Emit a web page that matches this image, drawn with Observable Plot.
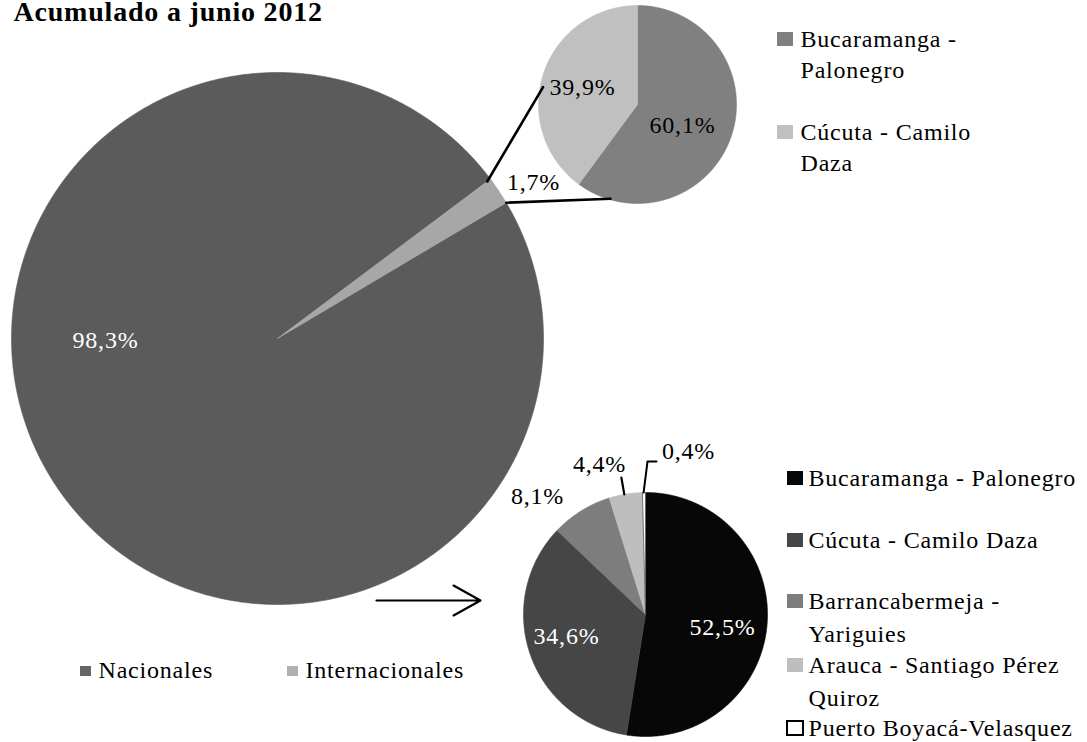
<!DOCTYPE html>
<html><head><meta charset="utf-8">
<script src="https://cdn.jsdelivr.net/npm/d3@7"></script>
<script src="https://cdn.jsdelivr.net/npm/@observablehq/plot@0.6"></script>
<style>body{margin:0;background:#fff;overflow:hidden;} svg{display:block}</style>
</head><body><div id="chart"></div>
<script>
// ---------- data ----------
const title = "Acumulado a junio 2012";
const totalCategories = ["Nacionales", "Internacionales"];
const totalValues = [98.3, 1.7];
const intlCategories = ["Bucaramanga - Palonegro", "Cúcuta - Camilo Daza"];
const intlValues = [60.1, 39.9];
const natCategories = ["Bucaramanga - Palonegro", "Cúcuta - Camilo Daza", "Barrancabermeja - Yariguies", "Arauca - Santiago Pérez Quiroz", "Puerto Boyacá-Velasquez"];
const natValues = [52.5, 34.6, 8.1, 4.4, 0.4];
// legend texts (as wrapped in the chart)
const totalLegend = ["Nacionales", "Internacionales"];
const intlLegend = ["Bucaramanga -\nPalonegro", "Cúcuta - Camilo\nDaza"];
const natLegend = ["Bucaramanga - Palonegro", "Cúcuta - Camilo Daza", "Barrancabermeja -\nYariguies", "Arauca - Santiago Pérez\nQuiroz", "Puerto Boyacá-Velasquez"];

// ---------- layout ----------
const W = 1087, H = 742;
const FONT = "Liberation Serif";
const FS = 24;
const pies = {
  total: {cx: 277, cy: 338, r: 266, start: 59.3,
    colors: ["#5b5b5b", "#a7a7a7"], stroke: [null, null],
    labelColors: ["#fff", "#000"], labelOffsets: [[-172, 2], [256, -156]]},
  intl: {cx: 637, cy: 104, r: 99, start: 0,
    colors: ["#808080", "#c0c0c0"], stroke: [null, null],
    labelColors: ["#000", "#000"], labelOffsets: [[45, 21], [-55, -17]]},
  nat: {cx: 645, cy: 614, r: 122, start: 0,
    colors: ["#070707", "#464646", "#7d7d7d", "#bebebe", "#ffffff"], stroke: [null, null, null, null, "#555"],
    labelColors: ["#fff", "#fff", "#000", "#000", "#000"],
    labelOffsets: [[77, 13], [-79, 22], [-108, -118], [-46, -150], [43, -163]]}
};
const legends = {
  total: {x: 80, sq: [11, 10], dxText: 18, step: 207, baseline: 677, lh: 1.2},
  intl: {x: 777, sq: [16, 14], dxText: 23, baselines: [47, 140], lh: 31 / FS},
  nat: {x: 787, sq: [16, 14], dxText: 21, baselines: [486, 548, 609, 673, 736], lh: 32.5 / FS}
};
const fmt = v => v.toFixed(1).replace(".", ",") + "%";

function slices(values, cats, p) {
  const total = d3.sum(values);
  let a = p.start;
  const groups = [], arcs = [];
  values.forEach((v, i) => {
    const a0 = a, a1 = a + v / total * 360; a = a1;
    arcs.push({cat: cats[i], v, a0, a1, i});
    const n = Math.max(2, Math.ceil((a1 - a0) / 0.4));
    const pts = [{x: p.cx, y: p.cy}];
    for (let j = 0; j <= n; j++) {
      const t = (a0 + (a1 - a0) * j / n) * Math.PI / 180;
      pts.push({x: p.cx + p.r * Math.sin(t), y: p.cy - p.r * Math.cos(t)});
    }
    pts.push({x: p.cx, y: p.cy});
    groups.push(pts);
  });
  return {groups, arcs};
}
const polar = (p, deg, k) => {
  const t = deg * Math.PI / 180;
  return {x: p.cx + k * p.r * Math.sin(t), y: p.cy - k * p.r * Math.cos(t)};
};

const marks = [];
function pieMarks(values, cats, p) {
  const {groups, arcs} = slices(values, cats, p);
  groups.forEach((pts, i) => {
    marks.push(Plot.line(pts, {x: "x", y: "y", fill: p.colors[i],
      stroke: p.stroke[i] || p.colors[i], strokeWidth: p.stroke[i] ? 0.8 : 0.6}));
  });
  marks.push(Plot.text(arcs, {
    x: d => p.cx + p.labelOffsets[d.i][0],
    y: d => p.cy + p.labelOffsets[d.i][1],
    text: d => fmt(d.v), fill: d => p.labelColors[d.i],
    fontFamily: FONT, fontSize: FS, textAnchor: "middle", lineAnchor: "middle"
  }));
  return arcs;
}
const totalArcs = pieMarks(totalValues, totalCategories, pies.total);
pieMarks(intlValues, intlCategories, pies.intl);
const natArcs = pieMarks(natValues, natCategories, pies.nat);

// connector lines between the Internacionales slice and the breakdown pie
const intlArc = totalArcs[1];
const connectors = [
  [polar(pies.total, intlArc.a0, 0.985), polar(pies.intl, 280.4, 0.97)],
  [polar(pies.total, intlArc.a1, 1.0), polar(pies.intl, 196, 0.99)]
];
connectors.forEach(c => marks.push(Plot.line(c, {x: "x", y: "y", stroke: "#000", strokeWidth: 2.6})));

// leader lines for small slices of the national pie
const pn = pies.nat;
const lead44 = [polar(pn, 350, 1.0), polar(pn, 350, 1.14)];
const lead04 = [polar(pn, 359.1, 1.0), {x: pn.cx + 2, y: pn.cy - 153}, {x: pn.cx + 11, y: pn.cy - 153}];
marks.push(Plot.line(lead44, {x: "x", y: "y", stroke: "#000", strokeWidth: 2.2}));
marks.push(Plot.line(lead04, {x: "x", y: "y", stroke: "#000", strokeWidth: 2}));

// arrow from the big pie to the national pie
marks.push(Plot.arrow([{x1: 376, y1: 600, x2: 480, y2: 600}], {
  x1: "x1", y1: "y1", x2: "x2", y2: "y2", stroke: "#000", strokeWidth: 2.2,
  headAngle: 58, headLength: 21, bend: 0
}));

// legends (Plot's "top" line anchor offsets the first baseline by 0.71 × lineHeight em)
function legendMarks(labels, colors, lg, positions, outline) {
  const rows = labels.map((t, i) => ({t, i, ...positions[i]}));
  marks.push(Plot.rect(rows, {
    x1: d => d.x, x2: d => d.x + lg.sq[0], y1: d => d.b - lg.sq[1] - 1, y2: d => d.b - 1,
    fill: d => colors[d.i],
    stroke: d => (outline && outline[d.i]) ? "#000" : "none",
    strokeWidth: 2, inset: 0
  }));
  marks.push(Plot.text(rows, {
    x: d => d.x + lg.dxText, y: d => d.b - 0.71 * lg.lh * FS, text: "t",
    fontFamily: FONT, fontSize: FS, textAnchor: "start", lineAnchor: "top",
    lineHeight: lg.lh, fill: "#000"
  }));
}
legendMarks(totalLegend, ["#666666", "#b0b0b0"], legends.total,
  totalLegend.map((_, i) => ({x: legends.total.x + i * legends.total.step, b: legends.total.baseline})));
legendMarks(intlLegend, pies.intl.colors, legends.intl,
  intlLegend.map((_, i) => ({x: legends.intl.x, b: legends.intl.baselines[i]})));
legendMarks(natLegend, pies.nat.colors, legends.nat,
  natLegend.map((_, i) => ({x: legends.nat.x, b: legends.nat.baselines[i]})), [false, false, false, false, true]);

// title
marks.push(Plot.text([title], {x: () => 13, y: () => 20.5, text: d => d, fontFamily: FONT,
  fontSize: 28, fontWeight: "bold", textAnchor: "start", lineAnchor: "bottom", fill: "#000"}));

const chart = Plot.plot({
  width: W, height: H, margin: 0,
  x: {type: "identity", axis: null},
  y: {type: "identity", axis: null},
  color: {type: "identity"},
  style: {background: "#fff", letterSpacing: "0.8px"},
  marks
});
document.getElementById("chart").appendChild(chart);
</script>
</body></html>
